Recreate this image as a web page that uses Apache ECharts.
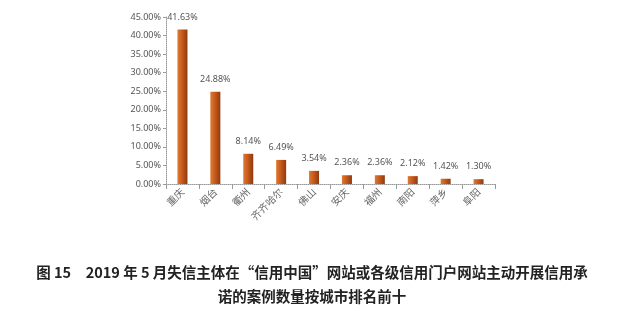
<!DOCTYPE html>
<html><head><meta charset="utf-8">
<script src="https://cdn.jsdelivr.net/npm/echarts@6/dist/echarts.min.js"></script>
<style>html,body{margin:0;padding:0;background:#fff}#c{width:624px;height:311px}</style>
</head><body><div id="c"></div>
<script>
const categories = ['重庆','烟台','衢州','齐齐哈尔','佛山','安庆','福州','南阳','萍乡','阜阳'];
const values = [41.63, 24.88, 8.14, 6.49, 3.54, 2.36, 2.36, 2.12, 1.42, 1.30];
const yTicks = [0, 5, 10, 15, 20, 25, 30, 35, 40, 45];
const captionLines = ['图 15　2019 年 5 月失信主体在“信用中国”网站或各级信用门户网站主动开展信用承', '诺的案例数量按城市排名前十'];

const chart = echarts.init(document.getElementById('c'));
chart.setOption({
  animation: false,
  grid: {left: 166, right: 129, top: 17, bottom: 127},
  xAxis: {
    type: 'category', data: categories,
    axisLine: {lineStyle: {color: '#9a9a9a', type: 'dotted'}},
    axisTick: {show: true, lineStyle: {color: '#9a9a9a'}},
    axisLabel: {rotate: 45, fontSize: 10, color: '#666', fontFamily: 'Noto Sans CJK SC', margin: 6}
  },
  yAxis: {
    type: 'value', min: yTicks[0], max: yTicks[yTicks.length-1], interval: 5,
    axisLine: {show: true, lineStyle: {color: '#9a9a9a', type: 'dotted'}},
    axisTick: {show: true, length: 3, lineStyle: {color: '#9a9a9a'}},
    splitLine: {show: false},
    axisLabel: {fontSize: 9, color: '#555', fontFamily: 'Noto Sans', margin: 5,
      formatter: v => v.toFixed(2) + '%'}
  },
  series: [{
    type: 'bar', data: values, barWidth: 10,
    itemStyle: {color: new echarts.graphic.LinearGradient(0,0,1,0,[
      {offset:0,color:'#e07a33'},{offset:0.5,color:'#c4561a'},{offset:1,color:'#8e3a10'}])},
    label: {show: true, position: 'top', distance: 8, fontSize: 9, color: '#555',
      fontFamily: 'Noto Sans', formatter: p => p.value.toFixed(2) + '%'}
  }],
  graphic: [
    {type: 'text', left: 'center', top: 265, style: {text: captionLines[0], fontSize: 14.5, fontWeight: 'bold', fill: '#222', fontFamily: 'Noto Sans CJK SC'}},
    {type: 'text', left: 'center', top: 289, style: {text: captionLines[1], fontSize: 14.5, fontWeight: 'bold', fill: '#222', fontFamily: 'Noto Sans CJK SC'}}
  ]
});
</script></body></html>
